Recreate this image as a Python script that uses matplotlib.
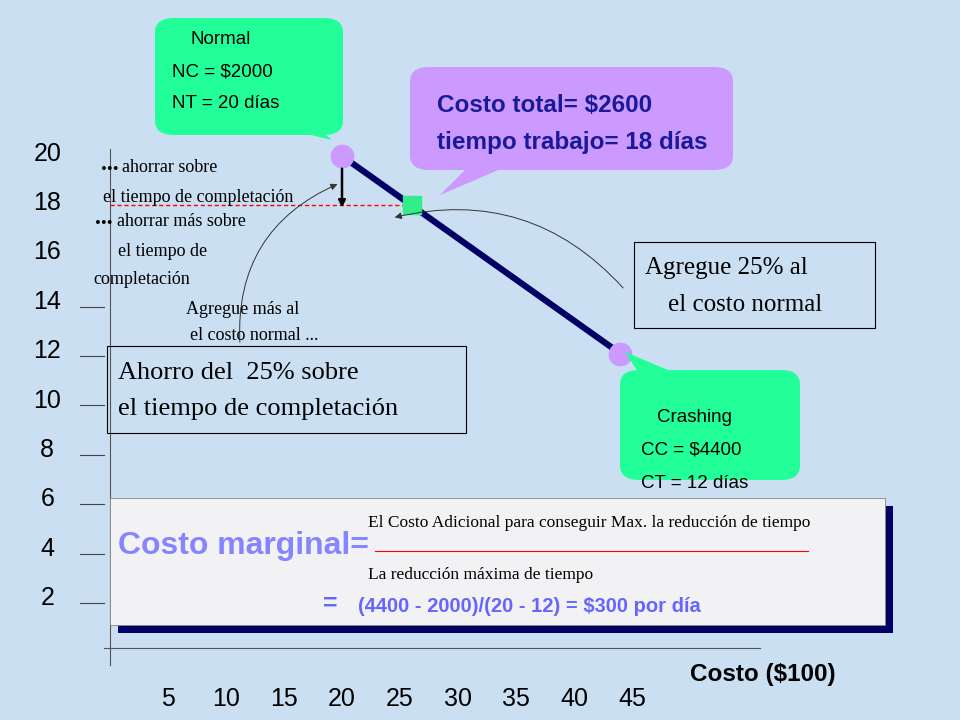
import matplotlib
matplotlib.use('Agg')
import matplotlib.pyplot as plt
from matplotlib.patches import FancyBboxPatch, Polygon, Rectangle, FancyArrowPatch

# data
costs = [20, 26, 44]          # $100
days = [20, 18, 12]
x_ticks = [5, 10, 15, 20, 25, 30, 35, 40, 45]
y_ticks = [20, 18, 16, 14, 12, 10, 8, 6, 4, 2]

W, H = 960, 720
fig = plt.figure(figsize=(9.6, 7.2), dpi=100)
fig.patch.set_facecolor('#cadff2')

# axes filling the figure; data scale chosen so 0,0 sits at the slide's origin
ax = fig.add_axes([0, 0, 1, 1])
ax.set_facecolor('none')
ax.axis('off')
px_x, px_y = 11.6, 24.7
ax.set_xlim(-110 / px_x, (W - 110) / px_x)
ax.set_ylim(-(H - 650) / px_y, 650 / px_y)

SANS = ['Liberation Sans', 'DejaVu Sans']
SERIF = ['Liberation Serif', 'DejaVu Serif']


def P(x, y):
    return x / W, 1 - y / H


def txt(x, y, s, **kw):
    fig.text(*P(x, y), s, va='center', ha='left', **kw)


def callout(x0, y0, x1, y1, tail, color):
    b = FancyBboxPatch(P(x0, y1), (x1 - x0) / W, (y1 - y0) / H,
                       boxstyle='round,pad=0,rounding_size=0.02',
                       transform=fig.transFigure, fc=color, ec='none', zorder=3)
    fig.add_artist(b)
    fig.add_artist(Polygon([P(*p) for p in tail], closed=True,
                           transform=fig.transFigure, fc=color, ec='none', zorder=3))


# axes lines
ax.plot([0, 0], [-0.6, 20.3], color='#555555', lw=0.8)
ax.plot([-0.5, 56], [0.1, 0.1], color='#555555', lw=0.8)
for yv in [14, 12, 10, 8, 6, 4, 2]:
    ax.plot([-2.6, -0.5], [yv - 0.1, yv - 0.1], color='#444444', lw=0.8)

for xv in x_ticks:
    ax.text(xv, -2.0, str(xv), ha='center', va='center', fontsize=18, family=SANS)
for yv in y_ticks:
    ax.text(-5.4, yv + 0.1, str(yv), ha='center', va='center', fontsize=18, family=SANS)

# the cost-time line
ax.plot([costs[0], costs[2]], [days[0], days[2]], color='#000066', lw=4.5, zorder=4)
ax.scatter([costs[0], costs[2]], [days[0], days[2]], s=260, color='#cc99ff', zorder=5)
ax.scatter([costs[1]], [days[1]], s=150, marker='s', color='#33ee88', zorder=5)
ax.plot([0, costs[1]], [days[1], days[1]], color='red', lw=1, ls=(0, (3, 2)), zorder=4)
ax.annotate('', xy=(costs[0], days[1] - 0.2), xytext=(costs[0], days[0] - 0.4),
            arrowprops=dict(arrowstyle='-|>', color='black', lw=1.8), zorder=6)
fig.add_artist(FancyArrowPatch(P(240, 345), P(340, 183), transform=fig.transFigure,
                               connectionstyle='arc3,rad=-0.35', arrowstyle='-|>',
                               mutation_scale=10, lw=0.7, color='#333333'))
fig.add_artist(FancyArrowPatch(P(625, 290), P(392, 218), transform=fig.transFigure,
                               connectionstyle='arc3,rad=0.3', arrowstyle='-|>',
                               mutation_scale=10, lw=0.7, color='#333333'))

# callouts
callout(155, 18, 343, 135, [(290, 130), (320, 130), (332, 140)], '#22ff99')
txt(190, 40, 'Normal', fontsize=13.5, family=SANS, zorder=6)
txt(172, 72, 'NC = $2000', fontsize=13.5, family=SANS, zorder=6)
txt(172, 104, 'NT = 20 días', fontsize=13.5, family=SANS, zorder=6)

callout(410, 67, 733, 170, [(470, 165), (510, 165), (440, 195)], '#cc99ff')
txt(437, 105, 'Costo total= $2600', fontsize=17.5, weight='bold', color='#1a1a99', family=SANS, zorder=6)
txt(437, 143, 'tiempo trabajo= 18 días', fontsize=17.5, weight='bold', color='#1a1a99', family=SANS, zorder=6)

callout(620, 370, 800, 480, [(640, 375), (680, 375), (625, 352)], '#22ff99')
txt(657, 417, 'Crashing', fontsize=13.5, family=SANS, zorder=6)
txt(641, 450, 'CC = $4400', fontsize=13.5, family=SANS, zorder=6)
txt(641, 484, 'CT = 12 días', fontsize=13.5, family=SANS, zorder=6)

# framed notes
for x0, y0, x1, y1 in [(634, 242, 875, 328), (107, 346, 466, 433)]:
    fig.add_artist(Rectangle(P(x0, y1), (x1 - x0) / W, (y1 - y0) / H,
                             transform=fig.transFigure, fc='none', ec='black', lw=0.8))
txt(645, 268, 'Agregue 25% al', fontsize=18, family=SERIF)
txt(668, 305, 'el costo normal', fontsize=18, family=SERIF)
txt(118, 373, 'Ahorro del  25% sobre', fontsize=19, family=SERIF)
txt(118, 409, 'el tiempo de completación', fontsize=19, family=SERIF)

txt(101, 164, '...', fontsize=17, weight='bold', family=SERIF)
txt(122, 168, 'ahorrar sobre', fontsize=13, family=SERIF)
txt(103, 198, 'el tiempo de completación', fontsize=13, family=SERIF)
txt(95, 218, '...', fontsize=17, weight='bold', family=SERIF)
txt(117, 222, 'ahorrar más sobre', fontsize=13, family=SERIF)
txt(118, 252, 'el tiempo de', fontsize=13, family=SERIF)
txt(93, 280, 'completación', fontsize=13, family=SERIF)
txt(186, 309, 'Agregue más al', fontsize=13, family=SERIF)
txt(190, 335, 'el costo normal ...', fontsize=13, family=SERIF)

# marginal cost box with shadow
fig.add_artist(Rectangle(P(118, 633), 775 / W, 127 / H, transform=fig.transFigure,
                         fc='#000066', ec='none', zorder=2))
fig.add_artist(Rectangle(P(110, 625), 775 / W, 127 / H, transform=fig.transFigure,
                         fc='#f2f2f4', ec='#888888', lw=0.6, zorder=2))
txt(118, 546, 'Costo marginal=', fontsize=23, weight='bold', color='#8585ff', family=SANS, zorder=6)
txt(368, 523, 'El Costo Adicional para conseguir Max. la reducción de tiempo',
    fontsize=12.5, family=SERIF, zorder=6)
fig.add_artist(plt.Line2D([375 / W, 808 / W], [1 - 551 / H] * 2, transform=fig.transFigure,
                          color='red', lw=0.8, zorder=6))
txt(368, 575, 'La reducción máxima de tiempo', fontsize=12.5, family=SERIF, zorder=6)
txt(323, 604, '=', fontsize=18, weight='bold', color='#6666ff', family=SANS, zorder=6)
txt(358, 607, '(4400 - 2000)/(20 - 12) = $300 por día', fontsize=14.5, weight='bold',
    color='#6666ff', family=SANS, zorder=6)

txt(690, 675, 'Costo ($100)', fontsize=17.5, weight='bold', family=SANS)

fig.savefig('out.png', dpi=100, facecolor=fig.get_facecolor())
